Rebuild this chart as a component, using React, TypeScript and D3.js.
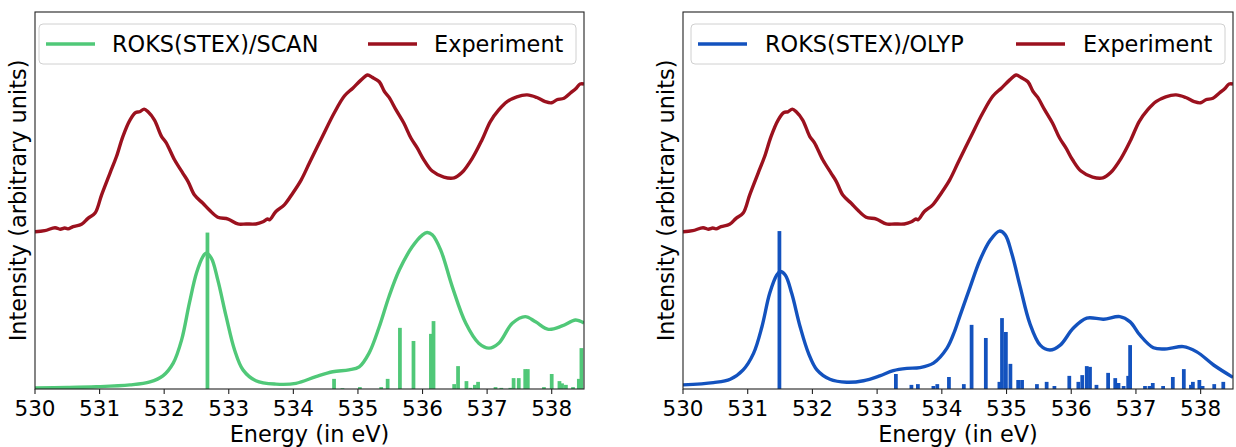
import React from "react";
import * as d3 from "d3";

// ---------------- DATA ----------------
const xTicks = [530, 531, 532, 533, 534, 535, 536, 537, 538];

const expE = [530.0, 530.15, 530.31, 530.39, 530.46, 530.51, 530.59, 530.72, 530.82, 530.93, 531.03, 531.16, 531.26, 531.36, 531.47, 531.56, 531.62, 531.69, 531.75, 531.85, 531.96, 532.03, 532.16, 532.29, 532.37, 532.47, 532.6, 532.7, 532.83, 532.99, 533.14, 533.27, 533.42, 533.53, 533.6, 533.63, 533.73, 533.86, 533.99, 534.12, 534.25, 534.45, 534.63, 534.79, 534.92, 535.05, 535.15, 535.22, 535.33, 535.41, 535.48, 535.59, 535.71, 535.82, 535.92, 536.02, 536.15, 536.33, 536.49, 536.61, 536.77, 536.92, 537.05, 537.18, 537.31, 537.46, 537.62, 537.77, 537.9, 538.0, 538.08, 538.19, 538.29, 538.38, 538.44, 538.5];
const expI = [0.419, 0.422, 0.43, 0.426, 0.429, 0.427, 0.433, 0.439, 0.455, 0.469, 0.517, 0.575, 0.619, 0.673, 0.717, 0.737, 0.739, 0.746, 0.739, 0.717, 0.673, 0.657, 0.611, 0.575, 0.553, 0.517, 0.495, 0.477, 0.458, 0.453, 0.44, 0.44, 0.44, 0.446, 0.453, 0.451, 0.473, 0.491, 0.522, 0.557, 0.603, 0.673, 0.735, 0.781, 0.802, 0.824, 0.837, 0.831, 0.819, 0.793, 0.778, 0.744, 0.709, 0.669, 0.642, 0.611, 0.581, 0.565, 0.563, 0.577, 0.615, 0.664, 0.713, 0.744, 0.766, 0.779, 0.784, 0.777, 0.766, 0.763, 0.771, 0.775, 0.789, 0.802, 0.813, 0.813];

const scanCurveE = [530.0, 530.5, 530.95, 531.47, 531.78, 531.98, 532.14, 532.27, 532.39, 532.5, 532.6, 532.65, 532.73, 532.83, 532.96, 533.09, 533.22, 533.42, 533.73, 534.04, 534.35, 534.61, 534.86, 535.02, 535.17, 535.33, 535.48, 535.64, 535.84, 536.0, 536.07, 536.15, 536.28, 536.46, 536.67, 536.87, 537.03, 537.18, 537.39, 537.59, 537.75, 537.95, 538.16, 538.37, 538.5];
const scanCurveI = [0.003, 0.004, 0.006, 0.011, 0.019, 0.035, 0.069, 0.131, 0.229, 0.309, 0.353, 0.362, 0.349, 0.291, 0.193, 0.104, 0.051, 0.022, 0.013, 0.015, 0.033, 0.046, 0.051, 0.059, 0.095, 0.166, 0.246, 0.317, 0.379, 0.411, 0.417, 0.411, 0.371, 0.273, 0.175, 0.122, 0.109, 0.122, 0.175, 0.193, 0.179, 0.159, 0.168, 0.184, 0.176];

const scanStickE = [532.67, 534.63, 534.76, 535.03, 535.36, 535.46, 535.65, 535.86, 536.13, 536.17, 536.49, 536.55, 536.68, 536.74, 536.81, 536.86, 537.13, 537.22, 537.36, 537.41, 537.49, 537.59, 537.63, 537.88, 538.0, 538.12, 538.16, 538.22, 538.33, 538.42, 538.46];
const scanStickI = [0.417, 0.027, 0.002, 0.005, 0.005, 0.027, 0.163, 0.128, 0.147, 0.181, 0.013, 0.061, 0.021, 0.003, 0.011, 0.019, 0.005, 0.003, 0.003, 0.029, 0.029, 0.053, 0.053, 0.005, 0.04, 0.021, 0.015, 0.011, 0.005, 0.027, 0.109];

const olypCurveE = [530.0, 530.47, 530.73, 530.93, 531.09, 531.22, 531.34, 531.45, 531.5, 531.58, 531.68, 531.81, 531.94, 532.07, 532.27, 532.53, 532.79, 533.04, 533.25, 533.46, 533.66, 533.87, 534.08, 534.2, 534.28, 534.44, 534.59, 534.75, 534.89, 534.98, 535.08, 535.21, 535.36, 535.52, 535.67, 535.83, 536.03, 536.24, 536.5, 536.75, 536.91, 537.06, 537.27, 537.48, 537.73, 537.94, 538.2, 538.5];
const olypCurveI = [0.011, 0.017, 0.026, 0.051, 0.095, 0.166, 0.255, 0.304, 0.313, 0.304, 0.255, 0.166, 0.095, 0.051, 0.026, 0.018, 0.022, 0.035, 0.049, 0.055, 0.057, 0.069, 0.109, 0.155, 0.195, 0.273, 0.344, 0.397, 0.421, 0.411, 0.362, 0.273, 0.175, 0.117, 0.104, 0.117, 0.162, 0.189, 0.186, 0.193, 0.179, 0.144, 0.11, 0.107, 0.113, 0.099, 0.064, 0.031];

const olypStickE = [531.49, 533.29, 533.53, 533.63, 533.87, 533.93, 534.11, 534.34, 534.46, 534.68, 534.89, 534.93, 534.99, 535.06, 535.18, 535.24, 535.47, 535.62, 535.74, 535.97, 536.11, 536.17, 536.24, 536.29, 536.39, 536.57, 536.68, 536.73, 536.81, 536.88, 536.91, 537.14, 537.21, 537.26, 537.42, 537.57, 537.74, 537.85, 537.88, 537.98, 538.03, 538.21, 538.35];
const olypStickI = [0.421, 0.04, 0.011, 0.013, 0.008, 0.013, 0.032, 0.013, 0.171, 0.136, 0.019, 0.189, 0.152, 0.067, 0.024, 0.024, 0.013, 0.019, 0.008, 0.035, 0.019, 0.037, 0.061, 0.059, 0.011, 0.043, 0.029, 0.016, 0.008, 0.035, 0.117, 0.008, 0.008, 0.016, 0.008, 0.032, 0.053, 0.011, 0.019, 0.024, 0.008, 0.013, 0.019];

const GREEN = "#50C878";
const BLUE = "#1352BE";
const RED = "#9B111E";
const FONT = "DejaVu Sans";

type PanelProps = {
  left: number;
  right: number;
  curveE: number[];
  curveI: number[];
  stickE: number[];
  stickI: number[];
  color: string;
  label: string;
  legend: { box: [number, number]; line1: number; text1: number; line2: number; text2: number };
  id: string;
};

const TOP = 12;
const BOTTOM = 389;

function Panel(p: PanelProps) {
  const x = d3.scaleLinear().domain([530, 538.5]).range([p.left, p.right]);
  const y = d3.scaleLinear().domain([0, 1.005]).range([BOTTOM, TOP]);
  const line = d3
    .line<[number, number]>()
    .x((d) => x(d[0]))
    .y((d) => y(d[1]))
    .curve(d3.curveCatmullRom);
  const expPath = line(expE.map((e, i) => [e, expI[i]] as [number, number])) || "";
  const thPath = line(p.curveE.map((e, i) => [e, p.curveI[i]] as [number, number])) || "";
  const bw = x(530.058) - x(530);
  const legY = 44;
  return (
    <g>
      <defs>
        <clipPath id={p.id}>
          <rect x={p.left} y={TOP} width={p.right - p.left} height={BOTTOM - TOP} />
        </clipPath>
      </defs>
      <g clipPath={`url(#${p.id})`}>
        {p.stickE.map((e, i) => (
          <rect
            key={i}
            x={x(e) - bw / 2}
            y={y(p.stickI[i])}
            width={bw}
            height={BOTTOM - y(p.stickI[i])}
            fill={p.color}
          />
        ))}
        <path d={thPath} fill="none" stroke={p.color} strokeWidth={3.4} strokeLinejoin="round" />
        <path d={expPath} fill="none" stroke={RED} strokeWidth={3.4} strokeLinejoin="round" />
      </g>
      <rect
        x={p.left}
        y={TOP}
        width={p.right - p.left}
        height={BOTTOM - TOP}
        fill="none"
        stroke="#222"
        strokeWidth={1.1}
      />
      {xTicks.map((t) => (
        <g key={t}>
          <line x1={x(t)} x2={x(t)} y1={BOTTOM} y2={BOTTOM + 5} stroke="#222" strokeWidth={1.1} />
          <text
            x={x(t)}
            y={BOTTOM + 27}
            textAnchor="middle"
            fontFamily={FONT}
            fontSize={21.5}
            fill="#000"
          >
            {t}
          </text>
        </g>
      ))}
      <text
        x={(p.left + p.right) / 2}
        y={442}
        textAnchor="middle"
        fontFamily={FONT}
        fontSize={22.4}
        fill="#000"
      >
        Energy (in eV)
      </text>
      <text
        transform={`translate(${p.left - 17},${(TOP + BOTTOM) / 2}) rotate(-90)`}
        textAnchor="middle"
        dominantBaseline="central"
        fontFamily={FONT}
        fontSize={22.4}
        fill="#000"
      >
        Intensity (arbitrary units)
      </text>
      <rect
        x={p.legend.box[0]}
        y={24}
        width={p.legend.box[1] - p.legend.box[0]}
        height={40}
        rx={4}
        fill="#fff"
        fillOpacity={0.8}
        stroke="#d0d0d0"
        strokeWidth={1}
      />
      <line x1={p.legend.line1} x2={p.legend.line1 + 49} y1={legY} y2={legY} stroke={p.color} strokeWidth={3.4} />
      <text x={p.legend.text1} y={legY} dominantBaseline="central" fontFamily={FONT} fontSize={22.4} fill="#000">
        {p.label}
      </text>
      <line x1={p.legend.line2} x2={p.legend.line2 + 49} y1={legY} y2={legY} stroke={RED} strokeWidth={3.4} />
      <text x={p.legend.text2} y={legY} dominantBaseline="central" fontFamily={FONT} fontSize={22.4} fill="#000">
        Experiment
      </text>
    </g>
  );
}

export default function App() {
  return (
    <svg
      width={1236}
      height={447}
      style={{ position: "absolute", left: 0, top: 0, background: "#fff" }}
    >
      <rect x={0} y={0} width={1236} height={447} fill="#fff" />
      <Panel
        id="clipL"
        left={35}
        right={584}
        curveE={scanCurveE}
        curveI={scanCurveI}
        stickE={scanStickE}
        stickI={scanStickI}
        color={GREEN}
        label="ROKS(STEX)/SCAN"
        legend={{ box: [39, 576], line1: 46, text1: 112, line2: 368, text2: 434 }}
      />
      <Panel
        id="clipR"
        left={683}
        right={1233}
        curveE={olypCurveE}
        curveI={olypCurveI}
        stickE={olypStickE}
        stickI={olypStickI}
        color={BLUE}
        label="ROKS(STEX)/OLYP"
        legend={{ box: [691, 1225], line1: 698, text1: 765, line2: 1016, text2: 1083 }}
      />
    </svg>
  );
}
